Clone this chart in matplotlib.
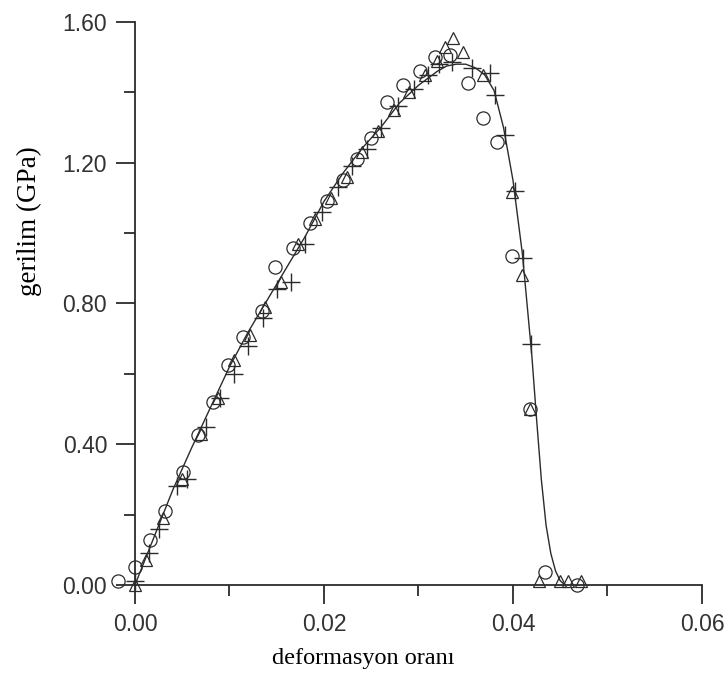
import matplotlib
matplotlib.use("Agg")
import matplotlib.pyplot as plt
from matplotlib.ticker import MultipleLocator

# fitted curve
line_x = [0.0, 0.002, 0.004, 0.006, 0.008, 0.010, 0.012, 0.014, 0.016, 0.018,
          0.020, 0.022, 0.024, 0.026, 0.028, 0.030, 0.032, 0.033, 0.034, 0.035,
          0.036, 0.037, 0.038, 0.039, 0.040, 0.041, 0.042, 0.0425, 0.043, 0.0435,
          0.044, 0.0445, 0.045, 0.0455]
line_y = [0.0, 0.135, 0.27, 0.39, 0.505, 0.62, 0.72, 0.81, 0.90, 0.99,
          1.09, 1.17, 1.24, 1.30, 1.37, 1.42, 1.46, 1.475, 1.48, 1.48,
          1.47, 1.45, 1.405, 1.30, 1.15, 0.94, 0.65, 0.47, 0.30, 0.17,
          0.09, 0.04, 0.012, 0.0]

# circles
circ_x = [-0.0018, 0.0, 0.0016, 0.0032, 0.0051, 0.0067, 0.0083, 0.0098, 0.0114,
          0.0134, 0.0148, 0.0167, 0.0185, 0.0203, 0.022, 0.0235, 0.025, 0.0267,
          0.0284, 0.0302, 0.0317, 0.0333, 0.0352, 0.0368, 0.0383, 0.0399, 0.0418,
          0.0434, 0.0468]
circ_y = [0.01, 0.05, 0.128, 0.21, 0.32, 0.426, 0.52, 0.625, 0.705,
          0.78, 0.904, 0.958, 1.03, 1.09, 1.15, 1.21, 1.27, 1.373,
          1.42, 1.46, 1.50, 1.506, 1.426, 1.327, 1.259, 0.935, 0.50,
          0.037, 0.0]

# triangles
tri_x = [0.0, 0.0012, 0.003, 0.005, 0.007, 0.0088, 0.0105, 0.0122, 0.0138,
         0.0155, 0.0172, 0.019, 0.0207, 0.0224, 0.024, 0.0257, 0.0274, 0.029,
         0.0307, 0.032, 0.0328, 0.0337, 0.0347, 0.0368, 0.0399, 0.041, 0.0418,
         0.0428, 0.045, 0.0458, 0.0472]
tri_y = [0.0, 0.07, 0.19, 0.30, 0.43, 0.53, 0.64, 0.71, 0.79,
         0.86, 0.97, 1.04, 1.10, 1.16, 1.23, 1.29, 1.35, 1.40,
         1.45, 1.49, 1.53, 1.555, 1.515, 1.45, 1.117, 0.88, 0.50,
         0.01, 0.01, 0.01, 0.01]

# plus signs
plus_x = [0.0, 0.0015, 0.0025, 0.0045, 0.0055, 0.0075, 0.009, 0.0105, 0.012,
          0.0135, 0.015, 0.0165, 0.018, 0.0198, 0.0215, 0.023, 0.0245, 0.026,
          0.0278, 0.0295, 0.031, 0.0322, 0.0335, 0.0357, 0.0376, 0.0381, 0.0392,
          0.0402, 0.0411, 0.0419]
plus_y = [0.01, 0.09, 0.16, 0.28, 0.30, 0.45, 0.53, 0.60, 0.68,
          0.76, 0.84, 0.86, 0.97, 1.06, 1.13, 1.19, 1.24, 1.30,
          1.36, 1.41, 1.45, 1.48, 1.485, 1.47, 1.455, 1.392, 1.28,
          1.12, 0.93, 0.685]

ink = "#2b2b2b"

fig = plt.figure(figsize=(7.25, 6.79), dpi=100)
ax = fig.add_axes([0.1601, 0.1281, 0.8212, 0.8499])

ax.plot(line_x, line_y, color=ink, lw=1.0, zorder=3)
ax.plot(circ_x, circ_y, ls="none", marker="o", ms=9.5, mfc="none", mec=ink,
        mew=0.9, clip_on=False)
ax.plot(tri_x, tri_y, ls="none", marker="^", ms=8.5, mfc="none", mec=ink,
        mew=0.9, clip_on=False)
ax.plot(plus_x, plus_y, ls="none", marker="+", ms=13, mec=ink,
        mew=1.0, clip_on=False)

ax.set_xlim(-0.002, 0.061)
ax.set_ylim(-0.02, 1.62)

for side in ["top", "right"]:
    ax.spines[side].set_visible(False)
ax.spines["left"].set_position(("data", 0))
ax.spines["bottom"].set_position(("data", 0))
ax.spines["left"].set_bounds(0, 1.6)
ax.spines["bottom"].set_bounds(0, 0.06)
for side in ["left", "bottom"]:
    ax.spines[side].set_linewidth(1.3)
    ax.spines[side].set_color(ink)

ax.xaxis.set_minor_locator(MultipleLocator(0.01))
ax.yaxis.set_minor_locator(MultipleLocator(0.2))
ax.set_xticks([0.0, 0.02, 0.04, 0.06])
ax.set_xticklabels(["0.00", "0.02", "0.04", "0.06"])
ax.set_yticks([0.0, 0.4, 0.8, 1.2, 1.6])
ax.set_yticklabels(["0.00", "0.40", "0.80", "1.20", "1.60"])

ax.tick_params(which="major", direction="out", length=14, width=1.3,
               color=ink, labelsize=16.5, labelcolor="#333333", pad=6)
ax.tick_params(which="minor", direction="out", length=8, width=1.3, color=ink)
for lab in ax.get_xticklabels() + ax.get_yticklabels():
    lab.set_family("Liberation Sans")

ax.set_xlabel("deformasyon oranı", family="Liberation Serif", fontsize=17.5,
              color="black")
ax.set_ylabel("gerilim (GPa)", family="Liberation Serif", fontsize=19.5,
              color="black")
ax.xaxis.set_label_coords(0.4147, -0.097)
ax.yaxis.set_label_coords(-0.1245, 0.643)

fig.savefig("out.png", dpi=100)
